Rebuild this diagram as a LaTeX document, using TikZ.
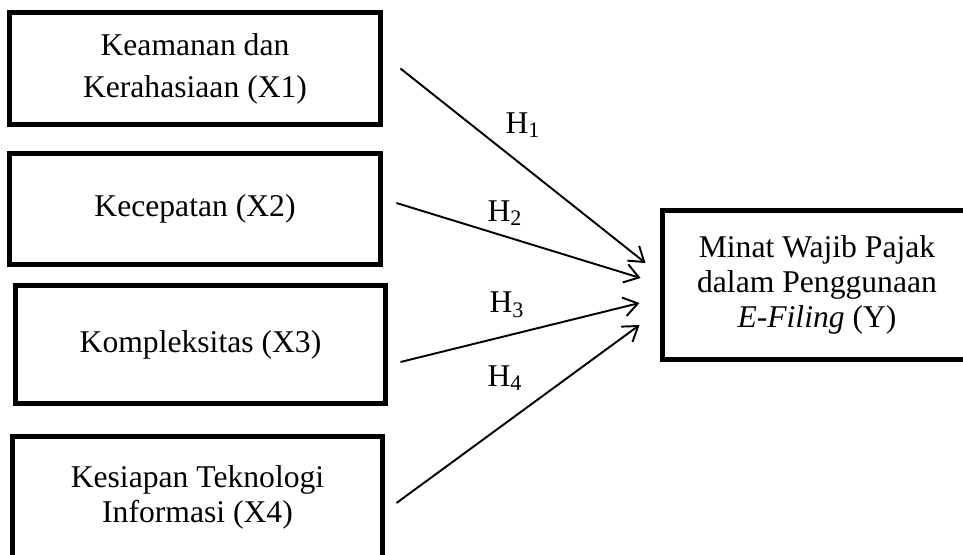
\documentclass[tikz,border=0pt]{standalone}
\usepackage{fontspec}
\setmainfont{Liberation Serif}
\usetikzlibrary{arrows.meta}
\begin{document}
\begin{tikzpicture}[
	varbox/.style={draw,line width=2.8pt,align=center,inner sep=0pt,font=\fontsize{18}{19.9}\selectfont},
	hyp/.style={font=\fontsize{18}{19.9}\selectfont},
	arr/.style={line width=1.1pt,-{Straight Barb[length=2.8mm,width=3.8mm,line width=1.1pt]}}]
		\useasboundingbox (0,0) rectangle (19.26,-11.08);
		\clip (0,0) rectangle (19.26,-11.08);
		
		\node[varbox,minimum width=7.42cm,minimum height=2.24cm] (X1) at (3.90,-1.37) {Keamanan dan\\[4pt]Kerahasiaan (X1)};
		\node[varbox,minimum width=7.42cm,minimum height=2.22cm] (X2) at (3.90,-4.18) {Kecepatan (X2)};
		\node[varbox,minimum width=7.40cm,minimum height=2.36cm] (X3) at (4.01,-6.89) {Kompleksitas (X3)};
		\node[varbox,minimum width=7.40cm,minimum height=2.42cm] (X4) at (3.95,-9.94) {Kesiapan Teknologi\\Informasi (X4)};
		
		\node[varbox,minimum width=6.18cm,minimum height=2.98cm] (Y) at (16.34,-5.70) {Minat Wajib Pajak\\dalam Penggunaan\\\textit{E-Filing} (Y)};
		
		\node[hyp] (h1) at (10.46,-2.50) {H\textsubscript{1}};
		\node[hyp] (h2) at (10.10,-4.26) {H\textsubscript{2}};
		\node[hyp] (h3) at (10.14,-6.10) {H\textsubscript{3}};
		\node[hyp] (h4) at (10.10,-7.56) {H\textsubscript{4}};
		
		\draw[arr] ([xshift=0.35cm]X1.east) -- ([xshift=-0.29cm,yshift=0.44cm]Y.west);
		\draw[arr] ([xshift=0.27cm,yshift=0.12cm]X2.east) -- ([xshift=-0.39cm,yshift=0.14cm]Y.west);
		\draw[arr] ([xshift=0.25cm,yshift=-0.35cm]X3.east) -- ([xshift=-0.41cm,yshift=-0.36cm]Y.west);
		\draw[arr] ([xshift=0.23cm,yshift=-0.12cm]X4.east) -- ([xshift=-0.41cm,yshift=-0.80cm]Y.west);
\end{tikzpicture}
\end{document}
